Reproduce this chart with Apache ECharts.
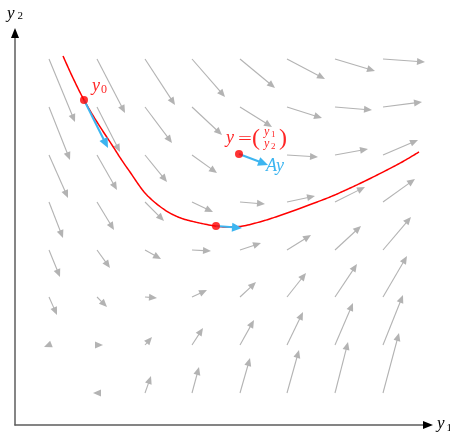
<!DOCTYPE html>
<html>
<head>
<meta charset="utf-8">
<script src="https://cdn.jsdelivr.net/npm/echarts@6/dist/echarts.min.js"></script>
<style>
  html, body { margin: 0; padding: 0; background: #fff; }
  #chart { width: 450px; height: 434px; }
</style>
</head>
<body>
<div id="chart"></div>
<script>
// data units: pixels measured from the origin of the two axes, y pointing up
const X_MAX = 413;
const Y_MAX = 392;

// tails of the grey direction field (columns left to right, rows top to bottom)
const fieldX = [34, 82, 130, 177, 225, 272, 320, 368];
const fieldY = [366, 318, 270, 223, 175, 128, 80, 32];

// one [dx, dy] per node, rows top to bottom; null where no grey arrow is drawn
const fieldVectors = [
  [[26, -63], [28, -54], [30, -46], [33, -38], [35, -29], [38, -20], [40, -12], [42, -3]],
  [[21, -53], [23, -45], [27, -36], [30, -28], [32, -20], [35, -11], [37, -3], [39, 5]],
  [[19, -43], [20, -35], [22, -27], [25, -18], null, [31, -2], [33, 6], [35, 15]],
  [[14, -36], [17, -28], [19, -19], [21, -10], [25, -2], [28, 6], [30, 15], [32, 23]],
  [[11, -27], [13, -18], [16, -9], [19, -1], [21, 7], [24, 15], [26, 24], [28, 33]],
  [[8, -18], [10, -10], [12, -1], [15, 7], [16, 15], [19, 24], [22, 33], [24, 41]],
  [[-5, -2], [6, 0], [7, 8], [11, 17], [14, 25], [16, 33], [18, 42], [20, 50]],
  [null, [-4, 0], [6, 17], [7, 26], [10, 35], [12, 43], [13, 51], [16, 60]]
];

// the red solution curve
const curve = [
  [48, 369], [58, 347], [69, 325], [82, 303], [97, 280], [106, 266], [115, 253],
  [130, 232], [147, 217], [163, 208], [180, 203], [200, 199], [213, 198], [228, 199],
  [248, 204], [265, 209.5], [282, 215.5], [298, 221.5], [315, 228], [332, 235.5], [348, 243],
  [372, 255], [388, 263.5], [404, 273]
];

// red dots: y0, y, and the bottom of the curve
const markedPoints = [[69, 325], [224, 271], [201, 199]];
// blue vector drawn from each red dot
const blueVectors = [[24, -48], [29, -11], [26, -2]];

const GREY = "#b3b3b3";
const RED = "#ff0000";
const RED_TEXT = "#ff2626";
const BLUE = "#3db5f0";
const SERIF = '"Liberation Serif", "DejaVu Serif", serif';

const fieldData = [];
fieldVectors.forEach((row, r) => {
  row.forEach((v, c) => {
    if (v) fieldData.push([fieldX[c], fieldY[r], v[0], v[1]]);
  });
});
const blueData = markedPoints.map((p, i) => [p[0], p[1], blueVectors[i][0], blueVectors[i][1]]);

function arrowRenderer(color, lineWidth, headLen, headWidth) {
  return function (params, api) {
    const x = api.value(0), y = api.value(1);
    const p0 = api.coord([x, y]);
    const p1 = api.coord([x + api.value(2), y + api.value(3)]);
    const dx = p1[0] - p0[0], dy = p1[1] - p0[1];
    const len = Math.hypot(dx, dy) || 1;
    const ux = dx / len, uy = dy / len;
    const bx = p1[0] - ux * headLen, by = p1[1] - uy * headLen;
    const children = [];
    if (len > headLen) {
      children.push({
        type: "line",
        shape: { x1: p0[0], y1: p0[1], x2: bx + ux, y2: by + uy },
        style: { stroke: color, lineWidth: lineWidth }
      });
    }
    children.push({
      type: "polygon",
      shape: {
        points: [
          [p1[0], p1[1]],
          [bx - uy * headWidth / 2, by + ux * headWidth / 2],
          [bx + uy * headWidth / 2, by - ux * headWidth / 2]
        ]
      },
      style: { fill: color }
    });
    return { type: "group", children: children };
  };
}

// catmull-rom through the curve's screen points, so the bend stays round
function renderCurve(params, api) {
  const pts = curve.map(p => api.coord(p));
  const out = [];
  for (let i = 0; i < pts.length - 1; i++) {
    const p0 = pts[Math.max(i - 1, 0)], p1 = pts[i], p2 = pts[i + 1], p3 = pts[Math.min(i + 2, pts.length - 1)];
    for (let k = 0; k < 12; k++) {
      const t = k / 12, t2 = t * t, t3 = t2 * t;
      out.push([0, 1].map(d => 0.5 * (2 * p1[d] + (-p0[d] + p2[d]) * t +
        (2 * p0[d] - 5 * p1[d] + 4 * p2[d] - p3[d]) * t2 +
        (-p0[d] + 3 * p1[d] - 3 * p2[d] + p3[d]) * t3)));
    }
  }
  out.push(pts[pts.length - 1]);
  return {
    type: "polyline",
    shape: { points: out },
    style: { stroke: RED, lineWidth: 1.5, fill: null }
  };
}

function txt(p, dx, dy, text, size, color, italic, stretch) {
  return {
    type: "text",
    x: p[0] + dx,
    y: p[1] + dy,
    scaleX: stretch || 1,
    style: {
      text: text,
      fill: color,
      font: (italic ? "italic " : "") + size + "px " + SERIF,
      align: "left",
      verticalAlign: "middle"
    }
  };
}

function renderLabels(params, api) {
  const a = api.coord(markedPoints[0]);
  const b = api.coord(markedPoints[1]);
  const top = api.coord([0, Y_MAX]);
  const end = api.coord([X_MAX, 0]);
  return {
    type: "group",
    children: [
      txt(a, 8, -14, "y", 18, RED_TEXT, true),
      txt(a, 17, -10, "0", 12, RED_TEXT, false),
      txt(b, -13, -16, "y", 18, RED_TEXT, true),
      txt(b, -1, -14, "=", 17, RED_TEXT, false, 1.45),
      txt(b, 13, -15, "(", 24, RED_TEXT, false),
      txt(b, 25, -22, "y", 12, RED_TEXT, true),
      txt(b, 32, -19, "1", 9, RED_TEXT, false),
      txt(b, 25, -10, "y", 12, RED_TEXT, true),
      txt(b, 32, -7, "2", 9, RED_TEXT, false),
      txt(b, 40, -15, ")", 24, RED_TEXT, false),
      txt(b, 27, 12, "Ay", 18, BLUE, true),
      txt(top, -8, -19, "y", 17, "#000", true),
      txt(top, 2.5, -17, "2", 11, "#000", false),
      txt(end, 9, -1, "y", 17, "#000", true),
      txt(end, 18.5, 3, "1", 11, "#000", false)
    ]
  };
}

function valueAxis(max, extra) {
  return Object.assign({
    type: "value",
    min: 0,
    max: max,
    axisTick: { show: false },
    axisLabel: { show: false },
    splitLine: { show: false }
  }, extra);
}

const chart = echarts.init(document.getElementById("chart"), null, { renderer: "canvas" });

chart.setOption({
  animation: false,
  backgroundColor: "#ffffff",
  grid: { left: 15, right: 22, top: 33, bottom: 9 },
  xAxis: [
    valueAxis(X_MAX, { position: "bottom", axisLine: { onZero: false, lineStyle: { color: "#5c5c5c", width: 1.5 } } }),
    valueAxis(X_MAX, { position: "bottom", axisLine: { onZero: false, symbol: ["none", "triangle"], symbolSize: [8, 10], lineStyle: { color: "#000", width: 0 } } })
  ],
  yAxis: [
    valueAxis(Y_MAX, { position: "left", axisLine: { onZero: false, lineStyle: { color: "#5c5c5c", width: 1.5 } } }),
    valueAxis(Y_MAX, { position: "left", axisLine: { onZero: false, symbol: ["none", "triangle"], symbolSize: [8, 10], lineStyle: { color: "#000", width: 0 } } })
  ],
  series: [
    {
      name: "field",
      type: "custom",
      z: 1,
      renderItem: arrowRenderer(GREY, 1.1, 8, 7),
      encode: { x: 0, y: 1 },
      data: fieldData
    },
    {
      name: "solution",
      type: "custom",
      z: 2,
      renderItem: renderCurve,
      data: [curve[0]]
    },
    {
      name: "Ay",
      type: "custom",
      z: 3,
      renderItem: arrowRenderer(BLUE, 2, 10, 9),
      encode: { x: 0, y: 1 },
      data: blueData
    },
    {
      name: "points",
      type: "scatter",
      z: 4,
      symbolSize: 8,
      itemStyle: { color: RED },
      data: markedPoints
    },
    {
      name: "labels",
      type: "custom",
      z: 5,
      renderItem: renderLabels,
      data: [[0, 0]]
    }
  ]
});
</script>
</body>
</html>
